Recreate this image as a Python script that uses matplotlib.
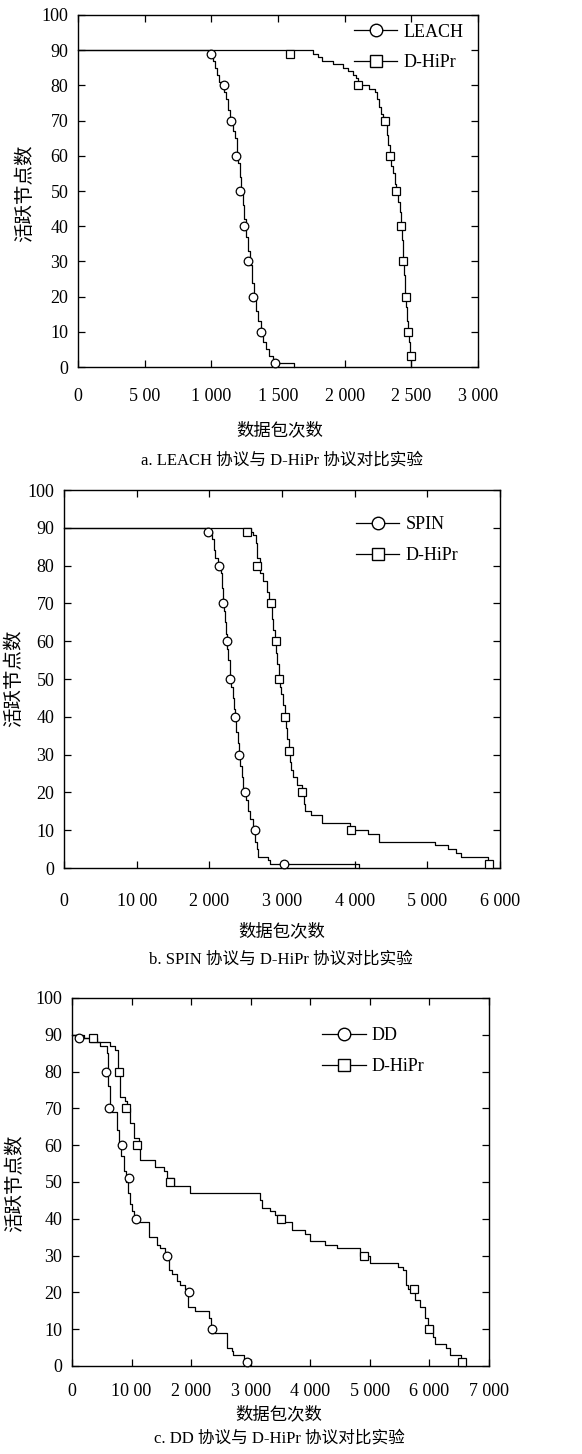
import matplotlib
matplotlib.use("Agg")
import matplotlib.pyplot as plt
from matplotlib.lines import Line2D

plt.rcParams['font.family'] = ['Liberation Serif', 'Noto Sans CJK SC', 'DejaVu Sans']

W, H = 582, 1454

# ---------------- data ----------------
# Panel a: LEACH vs D-HiPr
LEACH_X = [0, 1000, 1015, 1030, 1045, 1060, 1080, 1095, 1110, 1125, 1140, 1160, 1175, 1190, 1200, 1212, 1225,
           1237, 1248, 1262, 1275, 1290, 1305, 1318, 1335, 1350, 1370, 1390, 1412, 1435, 1462, 1480, 1620]
LEACH_Y = [90, 89, 87, 85, 83, 81, 80, 78, 76, 73, 70, 67, 65, 61, 58, 54, 50,
           46, 42, 37, 33, 29, 24, 20, 16, 13, 10, 7, 5, 3, 2, 1, 0]
LEACH_MX = [1000, 1095, 1145, 1188, 1218, 1245, 1275, 1312, 1370, 1478]
LEACH_MY = [89, 80, 70, 60, 50, 40, 30, 20, 10, 1]

DHA_X = [0, 1765, 1800, 1830, 1910, 1985, 2025, 2060, 2085, 2100, 2185, 2225, 2240, 2255, 2270, 2290, 2305, 2315,
         2325, 2337, 2350, 2362, 2375, 2387, 2400, 2412, 2420, 2430, 2437, 2445, 2452, 2460, 2468, 2475, 2482,
         2490, 2500]
DHA_Y = [90, 89, 88, 87, 86, 85, 84, 83, 82, 80, 79, 78, 76, 74, 72, 71, 69, 66,
         63, 60, 57, 55, 52, 50, 47, 44, 40, 36, 31, 26, 21, 17, 13, 10, 7,
         4, 0]
DHA_MX = [1590, 2100, 2305, 2337, 2387, 2420, 2437, 2457, 2475, 2495]
DHA_MY = [89, 80, 70, 60, 50, 40, 30, 20, 10, 3]

# Panel b: SPIN vs D-HiPr
SPIN_X = [0, 1990, 2030, 2060, 2080, 2125, 2160, 2175, 2185, 2200, 2215, 2230, 2245, 2260, 2280, 2300, 2320, 2335,
          2350, 2370, 2390, 2410, 2425, 2445, 2470, 2500, 2530, 2560, 2600, 2630, 2650, 2675, 2810, 2835, 4060]
SPIN_Y = [90, 89, 87, 84, 82, 80, 78, 74, 71, 68, 65, 62, 58, 55, 51, 48, 45, 42,
          39, 36, 33, 30, 27, 24, 21, 18, 15, 13, 10, 7, 5, 3, 2, 1, 0]
SPIN_MX = [1977, 2128, 2188, 2238, 2284, 2349, 2404, 2491, 2628, 3028]
SPIN_MY = [89, 80, 70, 60, 50, 40, 30, 20, 10, 1]

DHB_X = [0, 2570, 2600, 2640, 2650, 2700, 2740, 2790, 2820, 2845, 2865, 2880, 2900, 2915, 2935, 2955, 2970, 2990,
         3010, 3040, 3060, 3075, 3090, 3110, 3130, 3155, 3200, 3270, 3300, 3315, 3400, 3545, 3940, 4190, 4330,
         5110, 5290, 5400, 5465, 5840, 5885]
DHB_Y = [90, 89, 88, 86, 82, 78, 76, 73, 71, 69, 66, 63, 60, 57, 54, 51, 48, 46,
         43, 40, 37, 34, 31, 28, 26, 24, 22, 20, 17, 15, 14, 12, 10, 9, 7,
         6, 5, 4, 3, 1, 0]
DHB_MX = [2514, 2651, 2853, 2913, 2963, 3041, 3101, 3275, 3950, 5849]
DHB_MY = [89, 80, 70, 60, 50, 40, 31, 20, 10, 1]

# Panel c: DD vs D-HiPr
DD_X = [0, 140, 307, 475, 587, 610, 642, 754, 782, 821, 866, 911, 945, 978, 1006, 1040, 1117, 1285, 1425, 1480,
        1564, 1620, 1676, 1760, 1816, 1899, 1955, 2060, 2300, 2340, 2595, 2680, 2710, 2880, 2960]
DD_Y = [90, 89, 88, 87, 85, 76, 69, 64, 61, 57, 53, 50, 47, 44, 42, 40, 39, 35, 33, 32,
        29, 26, 25, 23, 22, 21, 16, 15, 13, 9, 5, 4, 3, 1, 0]
DD_MX = [112, 575, 615, 844, 955, 1067, 1592, 1961, 2352, 2933]
DD_MY = [89, 80, 70, 60, 51, 40, 30, 20, 10, 1]

DHC_X = [0, 200, 420, 640, 715, 765, 780, 810, 894, 922, 978, 1034, 1117, 1145, 1400, 1536, 1592, 1704, 1983,
         3160, 3190, 3324, 3408, 3547, 3687, 3911, 3994, 4246, 4441, 4832, 5000, 5475, 5559, 5615, 5642, 5754,
         5838, 5922, 5978, 6062, 6090, 6285, 6341, 6537, 6592]
DHC_Y = [90, 89, 88, 87, 86, 85, 80, 73, 72, 70, 66, 62, 59, 56, 54, 53, 51, 49, 47,
         45, 43, 42, 41, 39, 37, 36, 34, 33, 32, 30, 28, 27, 26, 22, 21, 18,
         16, 13, 11, 8, 6, 5, 3, 1, 0]
DHC_MX = [346, 782, 911, 1095, 1648, 3508, 4894, 5737, 5989, 6553]
DHC_MY = [89, 80, 70, 60, 50, 40, 30, 21, 10, 1]

XTICKS_A = [0, 500, 1000, 1500, 2000, 2500, 3000]
XLABELS_A = ['0', '5 00', '1 000', '1 500', '2 000', '2 500', '3 000']
XTICKS_B = [0, 1000, 2000, 3000, 4000, 5000, 6000]
XLABELS_B = ['0', '10 00', '2 000', '3 000', '4 000', '5 000', '6 000']
XTICKS_C = [0, 1000, 2000, 3000, 4000, 5000, 6000, 7000]
XLABELS_C = ['0', '10 00', '2 000', '3 000', '4 000', '5 000', '6 000', '7 000']
YTICKS = list(range(0, 101, 10))

YLABEL = '活跃节点数'
XLABEL = '数据包次数'
CAPTIONS = ['a. LEACH 协议与 D-HiPr 协议对比实验',
            'b. SPIN 协议与 D-HiPr 协议对比实验',
            'c. DD 协议与 D-HiPr 协议对比实验']

# ---------------- figure ----------------
fig = plt.figure(figsize=(W / 100, H / 100), dpi=100)


def px_axes(left, top, right, bottom):
    return fig.add_axes([left / W, 1 - bottom / H, (right - left) / W, (bottom - top) / H])


def ftxt(x, y, s, size, rot=0):
    fig.text(x / W, 1 - y / H, s, ha='center', va='center', fontsize=size, rotation=rot)


def draw_panel(ax, curves, xmax, xticks, xlabels, names, leg_anchor, xpad):
    for (cx, cy, mx, my, mk, ms) in curves:
        ax.plot(cx, cy, drawstyle='steps-post', color='black', lw=0.9, clip_on=False, zorder=3)
        ax.plot(mx, my, linestyle='none', marker=mk, ms=ms, mfc='white', mec='black', mew=0.9,
                clip_on=False, zorder=4)
    ax.set_xlim(0, xmax)
    ax.set_ylim(0, 100)
    ax.set_xticks(xticks)
    ax.set_xticklabels(xlabels)
    ax.set_yticks(YTICKS)
    ax.tick_params(direction='in', top=True, right=True, length=5, width=0.9, labelsize=13)
    ax.tick_params(axis='x', pad=xpad)
    ax.tick_params(axis='y', pad=7)
    for sp in ax.spines.values():
        sp.set_linewidth(1.0)
    handles = [Line2D([], [], color='black', lw=0.9, marker='o', ms=9, mfc='white', mec='black'),
               Line2D([], [], color='black', lw=0.9, marker='s', ms=9, mfc='white', mec='black')]
    ax.legend(handles, names, loc='upper left', bbox_to_anchor=leg_anchor, frameon=False, fontsize=13,
              handlelength=2.4, handletextpad=0.35, labelspacing=0.75, borderpad=0, borderaxespad=0)


# Panel a
axa = px_axes(78, 15, 478, 367)
draw_panel(axa, [(LEACH_X, LEACH_Y, LEACH_MX, LEACH_MY, 'o', 6.2),
                 (DHA_X, DHA_Y, DHA_MX, DHA_MY, 's', 5.6)],
           3000, XTICKS_A, XLABELS_A, ['LEACH', 'D-HiPr'], (0.69, 0.975), 15)
ftxt(25, 193, YLABEL, 14, 90)
ftxt(280, 431, XLABEL, 12.5)
ftxt(282, 461, CAPTIONS[0], 12)

# Panel b
axb = px_axes(64, 490, 500, 868)
draw_panel(axb, [(SPIN_X, SPIN_Y, SPIN_MX, SPIN_MY, 'o', 6.2),
                 (DHB_X, DHB_Y, DHB_MX, DHB_MY, 's', 5.6)],
           6000, XTICKS_B, XLABELS_B, ['SPIN', 'D-HiPr'], (0.67, 0.93), 18)
ftxt(14, 678, YLABEL, 14, 90)
ftxt(282, 932, XLABEL, 12.5)
ftxt(281, 960, CAPTIONS[1], 12)

# Panel c
axc = px_axes(72, 998, 489, 1366)
draw_panel(axc, [(DD_X, DD_Y, DD_MX, DD_MY, 'o', 6.2),
                 (DHC_X, DHC_Y, DHC_MX, DHC_MY, 's', 5.6)],
           7000, XTICKS_C, XLABELS_C, ['DD', 'D-HiPr'], (0.60, 0.92), 12)
ftxt(15, 1183, YLABEL, 14, 90)
ftxt(279, 1415, XLABEL, 12.5)
ftxt(279, 1439, CAPTIONS[2], 12)

fig.savefig('out.png', dpi=100)
